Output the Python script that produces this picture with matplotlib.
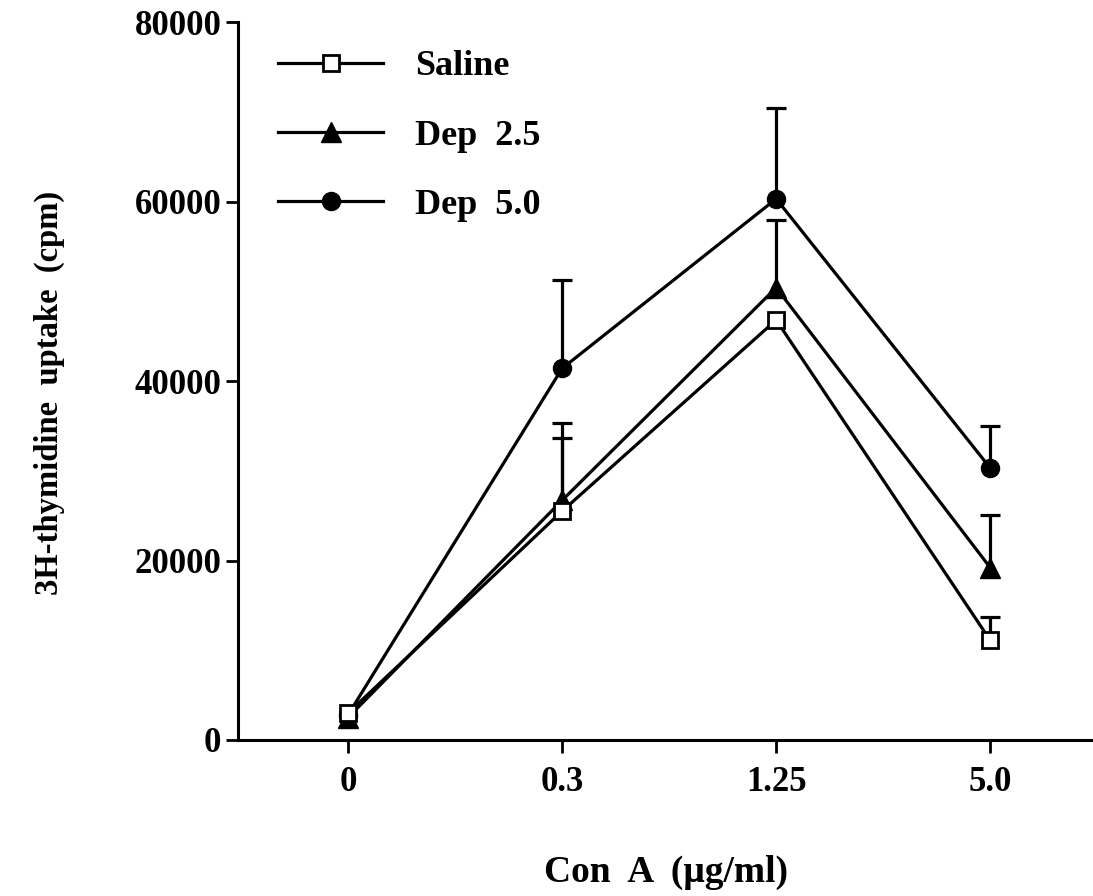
import numpy as np
import matplotlib.pyplot as plt

plt.rcParams['font.family'] = ['Liberation Serif', 'DejaVu Serif']
plt.rcParams['font.weight'] = 'bold'

doses = ['0', '0.3', '1.25', '5.0']

saline = [3000, 25500, 46800, 11100]
saline_err = [0, 8200, 0, 2600]

dep25 = [2500, 26700, 50400, 19200]
dep25_err = [0, 8600, 7500, 5900]

dep50 = [2800, 41400, 60300, 30300]
dep50_err = [0, 9800, 10100, 4700]

x = np.arange(len(doses))

fig = plt.figure(figsize=(10.93, 8.96), dpi=100)
ax = fig.add_axes([238/1093, 1 - 740/896, 1 - 238/1093, (740 - 22)/896])

lw = 2.3
# upper error bars only, behind the markers
for vals, errs in [(dep50, dep50_err), (dep25, dep25_err), (saline, saline_err)]:
    vals = np.array(vals)
    errs = np.array(errs)
    m = errs > 0
    ax.vlines(x[m], vals[m], vals[m] + errs[m], color='black', lw=lw, zorder=2)
    ax.plot(x[m], vals[m] + errs[m], ls='none', marker='_', markersize=14,
            markeredgewidth=lw, color='black', zorder=2)

ax.plot(x, dep50, color='black', lw=lw, marker='o', markersize=13,
        markerfacecolor='black', label='Dep  5.0', zorder=3)
ax.plot(x, dep25, color='black', lw=lw, marker='^', markersize=14,
        markerfacecolor='black', label='Dep  2.5', zorder=3)
ax.plot(x, saline, color='black', lw=lw, marker='s', markersize=12,
        markerfacecolor='white', markeredgewidth=2, label='Saline', zorder=4)

ax.set_xlim(-0.514, 3.48)
ax.set_ylim(0, 80000)
ax.set_yticks([0, 20000, 40000, 60000, 80000])
ax.set_xticks(x)
ax.set_xticklabels(doses)

for s in ['top', 'right']:
    ax.spines[s].set_visible(False)
for s in ['left', 'bottom']:
    ax.spines[s].set_linewidth(2.2)

ax.tick_params(axis='both', direction='out', width=2, length=9, labelsize=25)
ax.tick_params(axis='y', pad=3)
ax.tick_params(axis='x', pad=10)

ax.set_xlabel('Con  A  (\u03bcg/ml)', fontsize=27, fontweight='bold', labelpad=40)
ax.set_ylabel('3H-thymidine  uptake  (cpm)', fontsize=23.5, fontweight='bold')
ax.yaxis.set_label_coords(-0.202, 0.483)

handles, labels = ax.get_legend_handles_labels()
order = [2, 1, 0]
leg = ax.legend([handles[i] for i in order], [labels[i] for i in order],
                loc='upper left', bbox_to_anchor=(0.047, 0.961), frameon=False,
                borderaxespad=0, borderpad=0,
                fontsize=26, handlelength=2.9, handletextpad=0.9, labelspacing=1.0,
                numpoints=1)

fig.savefig('out.png', dpi=100)
